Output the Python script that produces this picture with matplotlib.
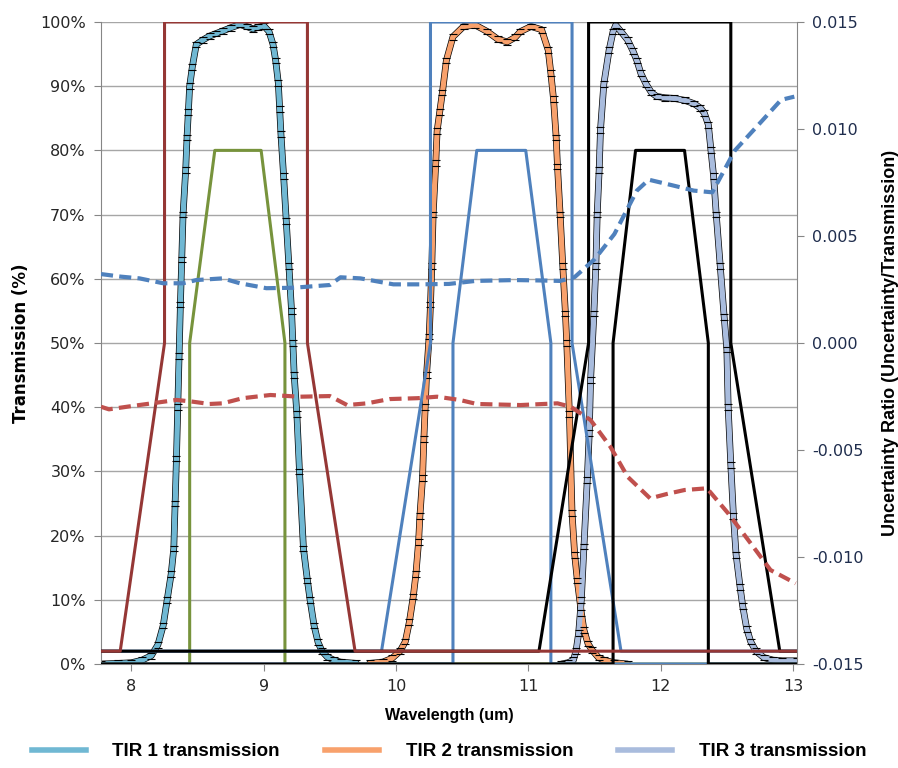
import matplotlib
matplotlib.use("Agg")
import matplotlib.pyplot as plt
from matplotlib.lines import Line2D

# --- measured transmission curves (wavelength um, transmission %) ---
tir1_x = [7.77, 7.90, 8.00, 8.08, 8.15, 8.20, 8.24, 8.27, 8.30, 8.32, 8.33, 8.34, 8.35, 8.36,
          8.37, 8.38, 8.39, 8.41, 8.42, 8.43, 8.44, 8.46, 8.49, 8.54, 8.59, 8.64, 8.69, 8.75,
          8.82, 8.87, 8.92, 8.96, 9.00, 9.04, 9.07, 9.09, 9.11, 9.12, 9.13, 9.15, 9.17, 9.19,
          9.21, 9.22, 9.23, 9.25, 9.27, 9.30, 9.33, 9.35, 9.38, 9.41, 9.44, 9.48, 9.53, 9.58, 9.70]
tir1_y = [0.0, 0.1, 0.2, 0.6, 1.3, 3.0, 6.0, 10.0, 14.0, 18.0, 25.0, 32.0, 40.0, 48.0,
          56.0, 63.0, 70.0, 77.0, 82.0, 86.0, 90.0, 93.0, 96.5, 97.2, 97.8, 98.2, 98.6, 99.1,
          99.6, 99.3, 98.9, 99.2, 99.4, 98.5, 96.5, 94.0, 90.5, 86.5, 82.5, 76.0, 69.0, 62.0,
          55.0, 50.0, 45.0, 39.0, 30.0, 18.0, 13.0, 10.0, 6.0, 3.4, 2.0, 1.1, 0.6, 0.3, 0.1]

tir2_x = [9.80, 9.90, 9.97, 10.03, 10.07, 10.10, 10.13, 10.15, 10.17, 10.18, 10.20, 10.21, 10.22,
          10.23, 10.25, 10.26, 10.27, 10.28, 10.30, 10.31, 10.33, 10.35, 10.38, 10.43, 10.51,
          10.60, 10.69, 10.77, 10.84, 10.90, 10.94, 11.02, 11.10, 11.15, 11.17, 11.19, 11.21,
          11.22, 11.24, 11.26, 11.28, 11.29, 11.31, 11.33, 11.35, 11.37, 11.40, 11.42, 11.45,
          11.48, 11.53, 11.57, 11.65, 11.75]
tir2_y = [0.1, 0.3, 0.9, 2.0, 3.5, 6.5, 10.5, 14.0, 19.0, 23.0, 29.0, 35.0, 40.0,
          45.0, 51.0, 56.0, 62.0, 70.0, 78.0, 83.0, 86.0, 89.0, 94.0, 97.7, 99.3,
          99.5, 98.5, 97.3, 96.9, 97.6, 98.5, 99.3, 98.8, 95.6, 92.0, 88.0, 82.0,
          77.5, 70.0, 62.0, 54.6, 50.0, 39.0, 23.5, 17.0, 13.0, 8.0, 5.3, 3.2,
          2.2, 1.0, 0.6, 0.2, 0.0]

tir3_x = [11.25, 11.30, 11.34, 11.36, 11.38, 11.40, 11.42, 11.445, 11.46, 11.47, 11.495, 11.51,
          11.52, 11.535, 11.545, 11.57, 11.61, 11.64, 11.66, 11.70, 11.75, 11.79, 11.82, 11.85,
          11.89, 11.93, 11.97, 12.03, 12.10, 12.18, 12.25, 12.30, 12.33, 12.36, 12.38, 12.40,
          12.42, 12.45, 12.48, 12.50, 12.51, 12.53, 12.55, 12.57, 12.60, 12.62, 12.65, 12.68,
          12.72, 12.78, 12.85, 12.92, 13.03]
tir3_y = [0.0, 0.2, 0.6, 2.0, 4.8, 10.0, 18.3, 28.7, 36.0, 44.2, 54.6, 62.0,
          70.0, 77.0, 83.2, 90.3, 95.6, 98.5, 99.5, 98.5, 97.2, 95.5, 94.0, 92.0,
          90.3, 89.0, 88.4, 88.2, 88.1, 87.8, 87.3, 86.6, 85.8, 84.0, 80.0, 76.0,
          70.0, 62.0, 54.0, 49.0, 40.0, 31.0, 23.0, 17.0, 12.0, 9.0, 5.5, 3.5,
          2.0, 1.0, 0.6, 0.5, 0.5]

# --- filter band outlines (wavelength um, %) ---
red_x = [7.77, 7.915, 8.25, 8.25, 9.33, 9.33, 9.69, 13.03]
red_y = [2, 2, 50, 100, 100, 50, 2, 2]
green_x = [7.77, 8.44, 8.44, 8.63, 8.98, 9.16, 9.16, 13.03]
green_y = [0, 0, 50, 80, 80, 50, 0, 0]
blue_out_x = [7.77, 9.89, 10.26, 10.26, 11.33, 11.33, 11.70, 13.03]
blue_out_y = [2, 2, 50, 100, 100, 50, 2, 2]
blue_in_x = [7.77, 10.43, 10.43, 10.61, 10.98, 11.17, 11.17, 13.03]
blue_in_y = [0, 0, 50, 80, 80, 50, 0, 0]
black_out_x = [7.77, 11.08, 11.455, 11.455, 12.53, 12.53, 12.90, 13.03]
black_out_y = [2, 2, 50, 100, 100, 50, 2, 2]
black_in_x = [7.77, 11.64, 11.64, 11.81, 12.18, 12.36, 12.36, 13.03]
black_in_y = [0, 0, 50, 80, 80, 50, 0, 0]

# --- uncertainty ratios (right axis) ---
unc_blue_x = [7.77, 7.92, 8.06, 8.24, 8.39, 8.49, 8.69, 8.82, 9.02, 9.22, 9.50, 9.58, 9.73, 9.98,
              10.18, 10.40, 10.60, 10.90, 11.10, 11.24, 11.35, 11.50, 11.65, 11.82, 11.91, 12.08,
              12.25, 12.39, 12.56, 12.76, 12.91, 13.01]
unc_blue_y = [0.00322, 0.00310, 0.00302, 0.00279, 0.00279, 0.00294, 0.00302, 0.00279, 0.00256,
              0.00258, 0.00271, 0.00307, 0.00302, 0.00274, 0.00274, 0.00276, 0.00290, 0.00294,
              0.00292, 0.00290, 0.00308, 0.00391, 0.00509, 0.00712, 0.00763, 0.00738, 0.00712,
              0.00704, 0.00899, 0.01034, 0.01136, 0.01151]
unc_red_x = [7.77, 7.83, 8.01, 8.19, 8.34, 8.46, 8.59, 8.69, 8.84, 9.05, 9.27, 9.50, 9.63, 9.78,
             9.95, 10.16, 10.31, 10.48, 10.61, 10.94, 11.22, 11.32, 11.47, 11.62, 11.75, 11.92,
             12.05, 12.18, 12.35, 12.51, 12.68, 12.83, 13.02]
unc_red_y = [-0.00298, -0.00310, -0.00294, -0.00279, -0.00266, -0.00274, -0.00285, -0.00282,
             -0.00258, -0.00243, -0.00251, -0.00248, -0.00290, -0.00282, -0.00262, -0.00258,
             -0.00251, -0.00266, -0.00285, -0.00290, -0.00282, -0.00298, -0.00360, -0.00485,
             -0.00625, -0.00726, -0.00705, -0.00687, -0.00679, -0.00796, -0.00936, -0.01061,
             -0.01123]

left_ticks = [0, 10, 20, 30, 40, 50, 60, 70, 80, 90, 100]
right_ticks = [-0.015, -0.010, -0.005, 0.0, 0.005, 0.010, 0.015]
x_ticks = [8, 9, 10, 11, 12, 13]
legend_labels = ["TIR 1 transmission", "TIR 2 transmission", "TIR 3 transmission"]

c_tir1, c_tir2, c_tir3 = "#70B8D3", "#F8A16C", "#A9BCDD"
arial = ["Liberation Sans", "DejaVu Sans"]

fig = plt.figure(figsize=(8.98, 7.68), dpi=100)
ax = fig.add_axes([0.1125, 0.1354, 0.775, 0.836])
ax2 = ax.twinx()

# transmission curves with error bars
for xs, ys, col in [(tir1_x, tir1_y, c_tir1), (tir2_x, tir2_y, c_tir2), (tir3_x, tir3_y, c_tir3)]:
    ax.plot(xs, ys, color="black", lw=4.8, zorder=2, solid_capstyle="round")
    ax.plot(xs, ys, color=col, lw=3.8, zorder=2.1, solid_capstyle="round")
    ax.errorbar(xs, ys, yerr=0.45, fmt="none", ecolor="black", elinewidth=0,
                capsize=3, capthick=0.8, zorder=2.2)

# filter outlines
ax.plot(green_x, green_y, color="#77933C", lw=2.2, zorder=3)
ax.plot(blue_out_x, blue_out_y, color="#4F81BD", lw=2.2, zorder=3.1)
ax.plot(blue_in_x, blue_in_y, color="#4F81BD", lw=2.2, zorder=3.2)
ax.plot(black_out_x, black_out_y, color="black", lw=2.2, zorder=3.3)
ax.plot(black_in_x, black_in_y, color="black", lw=2.2, zorder=3.4)
ax.plot(red_x, red_y, color="#953735", lw=2.2, zorder=3.5)

# uncertainty ratios
ax2.plot(unc_blue_x, unc_blue_y, color="#4F81BD", lw=3, dashes=(2.9, 1.5))
ax2.plot(unc_red_x, unc_red_y, color="#C0504D", lw=3, dashes=(2.9, 1.5))

ax.set_xlim(7.77, 13.03)
ax.set_ylim(0, 100)
ax2.set_ylim(-0.015, 0.015)

ax.set_xticks(x_ticks)
ax.set_xticklabels([str(t) for t in x_ticks])
ax.set_yticks(left_ticks)
ax.set_yticklabels([f"{t}%" for t in left_ticks])
ax2.set_yticks(right_ticks)
ax2.set_yticklabels([f"{t:.3f}" for t in right_ticks])

ax.yaxis.grid(True, color="#A6A6A6", lw=1)
ax.set_axisbelow(True)

for a in (ax, ax2):
    for s in a.spines.values():
        s.set_color("#868686")
    a.spines["top"].set_visible(False)
ax.spines["right"].set_visible(False)
ax2.spines["left"].set_visible(False)
ax2.spines["bottom"].set_visible(False)

ax.tick_params(axis="both", direction="out", length=5, color="#868686",
               labelsize=11.5, labelcolor="#262626", pad=6)
ax2.tick_params(axis="y", direction="out", length=5, color="#868686",
                labelsize=11.5, labelcolor="#1F2D4D", pad=6)

ax.set_xlabel("Wavelength (um)", fontsize=11.5, fontweight="bold", family=arial, labelpad=10)
ax.set_ylabel("Transmission (%)", fontsize=12, fontweight="bold", labelpad=7)
ax2.set_ylabel("Uncertainty Ratio (Uncertainty/Transmission)", fontsize=13,
               fontweight="bold", family=arial, labelpad=13)

handles = [Line2D([], [], color=c, lw=4) for c in (c_tir1, c_tir2, c_tir3)]
fig.legend(handles, legend_labels, loc="center", bbox_to_anchor=(0.5, 0.021), ncol=3,
           frameon=False, handlelength=2.9, handletextpad=1.4, columnspacing=2.4,
           prop={"family": arial, "weight": "bold", "size": 13.5})

fig.savefig("out.png", dpi=100)
